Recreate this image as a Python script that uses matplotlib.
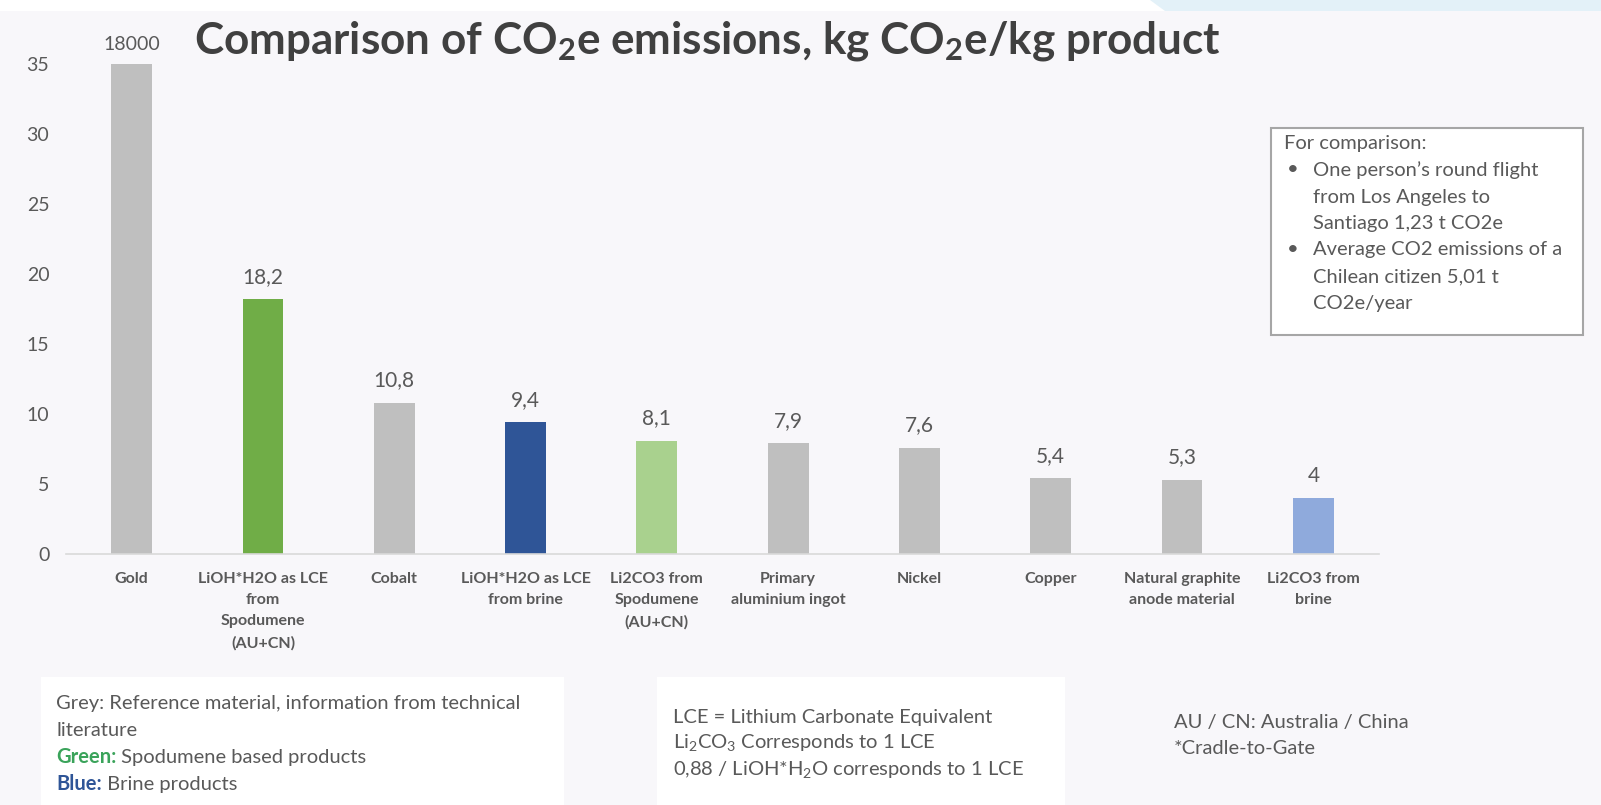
import numpy as np
import matplotlib
matplotlib.use("Agg")
import matplotlib.pyplot as plt
from matplotlib.patches import Rectangle, Polygon

plt.rcParams["font.family"] = ["Lato", "DejaVu Sans"]

# Data
categories = [
    "Gold",
    "LiOH*H2O as LCE\nfrom\nSpodumene\n(AU+CN)",
    "Cobalt",
    "LiOH*H2O as LCE\nfrom brine",
    "Li2CO3 from\nSpodumene\n(AU+CN)",
    "Primary\naluminium ingot",
    "Nickel",
    "Copper",
    "Natural graphite\nanode material",
    "Li2CO3 from\nbrine",
]
values = [18000, 18.2, 10.8, 9.4, 8.1, 7.9, 7.6, 5.4, 5.3, 4]
value_labels = ["18000", "18,2", "10,8", "9,4", "8,1", "7,9", "7,6", "5,4", "5,3", "4"]
bar_colors = ["#bfbfbf", "#70ad47", "#bfbfbf", "#2f5597", "#a9d18e",
              "#bfbfbf", "#bfbfbf", "#bfbfbf", "#bfbfbf", "#8faadc"]
yticks = [0, 5, 10, 15, 20, 25, 30, 35]
ymax = 35

W, H = 1601, 805
bg = "#f8f7fa"
txt = "#595959"
note_fs = 14.5

fig = plt.figure(figsize=(W / 100, H / 100), dpi=100, facecolor=bg)


def fx(x):
    return x / W


def fy(y):
    return 1 - y / H


# decorative header strip
fig.patches.append(Rectangle((0, fy(11)), 1, 11 / H, transform=fig.transFigure,
                             facecolor="white", edgecolor="none", zorder=0))
fig.patches.append(Polygon([(fx(1150), 1), (1, 1), (1, fy(11)), (fx(1165), fy(11))],
                           closed=True, transform=fig.transFigure,
                           facecolor="#e3f1f8", edgecolor="none", zorder=0))

# main axes
ax = fig.add_axes([fx(66), fy(554), fx(1379) - fx(66), fy(64) - fy(554)])
ax.set_facecolor("none")
x = np.arange(len(categories))
heights = np.minimum(values, ymax)
ax.bar(x, heights, width=0.31, color=bar_colors, zorder=2)
ax.set_xlim(-0.5, len(categories) - 0.5)
ax.set_ylim(0, ymax)
ax.set_yticks(yticks)
ax.set_yticklabels([str(t) for t in yticks], fontsize=14, color=txt)
ax.set_xticks(x)
ax.set_xticklabels(categories, fontsize=11.5, fontweight="bold", color=txt,
                   linespacing=1.65)
ax.tick_params(length=0)
ax.tick_params(axis="y", pad=12)
ax.tick_params(axis="x", pad=13)
for s in ["top", "right", "left"]:
    ax.spines[s].set_visible(False)
ax.spines["bottom"].set_color("#d9d9d9")
ax.spines["bottom"].set_linewidth(1.2)

for i, (h, lab) in enumerate(zip(heights, value_labels)):
    fs = 14 if i == 0 else 15
    ax.annotate(lab, (i, h), xytext=(0, 8 if i == 0 else 9), textcoords="offset points",
                ha="center", va="bottom", fontsize=fs, color=txt)

# title
fig.text(fx(194), fy(41),
         r"Comparison of CO$\mathregular{_2}$e emissions, kg CO$\mathregular{_2}$e/kg product",
         fontsize=31.7, fontweight="bold", color="#404040", ha="left", va="center")

# comparison box
fig.patches.append(Rectangle((fx(1271), fy(335)), fx(1583) - fx(1271), fy(128) - fy(335),
                             transform=fig.transFigure, facecolor="white",
                             edgecolor="#a6a6a6", linewidth=1.5, zorder=1))
box_lines = [
    (1284, 143, "For comparison:"),
    (1287, 170, "•"),
    (1313, 170, "One person’s round flight"),
    (1313, 197, "from Los Angeles to"),
    (1313, 223, "Santiago 1,23 t CO2e"),
    (1287, 250, "•"),
    (1313, 250, "Average CO2 emissions of a"),
    (1313, 277, "Chilean citizen 5,01 t"),
    (1313, 303, "CO2e/year"),
]
for bx, by, s in box_lines:
    fig.text(fx(bx), fy(by), s, fontsize=14.5, color=txt, ha="left", va="center")

# bottom note boxes
for x0, x1 in [(41, 564), (657, 1065)]:
    fig.patches.append(Rectangle((fx(x0), 0), fx(x1) - fx(x0), fy(677),
                                 transform=fig.transFigure, facecolor="white",
                                 edgecolor="none", zorder=1))

fig.text(fx(56), fy(703), "Grey: Reference material, information from technical",
         fontsize=note_fs, color=txt, va="center")
fig.text(fx(56), fy(730), "literature", fontsize=note_fs, color=txt, va="center")

renderer = fig.canvas.get_renderer()
for y, key, kcol, rest in [(757, "Green:", "#3aa35a", " Spodumene based products"),
                           (784, "Blue:", "#2f5597", " Brine products")]:
    k = fig.text(fx(56), fy(y), key, fontsize=note_fs, color=kcol,
                 fontweight="bold", va="center")
    ext = k.get_window_extent(renderer)
    fig.text(ext.x1 / fig.bbox.width, fy(y), rest, fontsize=note_fs,
             color=txt, va="center")

fig.text(fx(673), fy(717), "LCE = Lithium Carbonate Equivalent", fontsize=note_fs,
         color=txt, va="center")
fig.text(fx(673), fy(742), r"Li$\mathregular{_2}$CO$\mathregular{_3}$ Corresponds to 1 LCE",
         fontsize=note_fs, color=txt, va="center")
fig.text(fx(673), fy(769), r"0,88 / LiOH*H$\mathregular{_2}$O corresponds to 1 LCE",
         fontsize=note_fs, color=txt, va="center")

fig.text(fx(1174), fy(722), "AU / CN: Australia / China", fontsize=note_fs,
         color=txt, va="center")
fig.text(fx(1174), fy(748), "*Cradle-to-Gate", fontsize=note_fs, color=txt, va="center")

fig.savefig("out.png", dpi=100, facecolor=bg)
